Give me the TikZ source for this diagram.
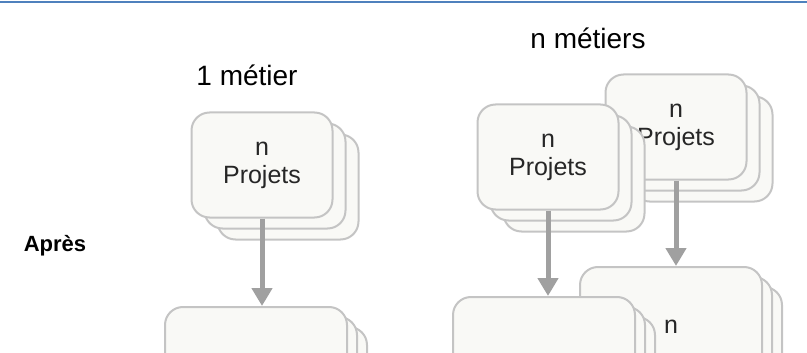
\documentclass[tikz,border=0pt]{standalone}
\usepackage{fontspec}
\setmainfont{Liberation Sans}
\usetikzlibrary{arrows.meta}
\definecolor{cardfill}{RGB}{249,249,246}
\definecolor{carddraw}{RGB}{196,196,196}
\definecolor{flowgray}{RGB}{160,160,160}
\definecolor{topblue}{RGB}{79,129,189}
\begin{document}
\begin{tikzpicture}[x=1pt,y=-1pt,
    card/.style={draw=carddraw,fill=cardfill,line width=2pt,rounded corners=18pt,
        minimum width=141pt,minimum height=105pt,align=center,
        font=\fontsize{25}{28}\selectfont,text=black!85},
    bigcard/.style={card,minimum width=182pt,minimum height=156pt},
    flow/.style={draw=flowgray,line width=5pt,-{Triangle[width=20pt,length=18pt]}},
    title/.style={font=\fontsize{28}{32}\selectfont}]
    \useasboundingbox (0,0) rectangle (807,353);
    \clip (0,0) rectangle (807,353);
    \draw[topblue,line width=2.5pt] (0,2) -- (807,2);
    % titles
    \node[title] (un) at (247,75) {1 métier};
    \node[title] (plusieurs) at (588,38) {n métiers};
    \node[font=\fontsize{22}{26}\selectfont\bfseries] (apres) at (55,246) {Après};
    % 1 metier
    \node[card] (proj1c) at (288,187) {};
    \node[card] (proj1b) at (275,176) {};
    \node[card] (proj1) at (262,165) {n\\Projets};
    \node[bigcard] (met1c) at (276,405) {};
    \node[bigcard] (met1b) at (266,395) {};
    \node[bigcard] (met1) at (256,385) {};
    % n metiers
    \node[card] (projBc) at (702,149) {};
    \node[card] (projBb) at (689,138) {};
    \node[card] (projB) at (676,127) {n\\Projets};
    \node[card] (projAc) at (574,179) {};
    \node[card] (projAb) at (561,168) {};
    \node[card] (projA) at (548,157) {n\\Projets};
    \node[bigcard] (metBc) at (691,365) {};
    \node[bigcard] (metBb) at (681,355) {};
    \node[bigcard] (metB) at (671,345) {n\\\strut};
    \node[bigcard] (metAc) at (564,395) {};
    \node[bigcard] (metAb) at (554,385) {};
    \node[bigcard] (metA) at (544,375) {};
    % fleches
    \draw[flow] (proj1.south) -- (proj1.south |- met1.north);
    \draw[flow] (projA.south) -- (projA.south |- metA.north);
    \draw[flow] (projB.south) -- (projB.south |- metB.north);
\end{tikzpicture}
\end{document}
